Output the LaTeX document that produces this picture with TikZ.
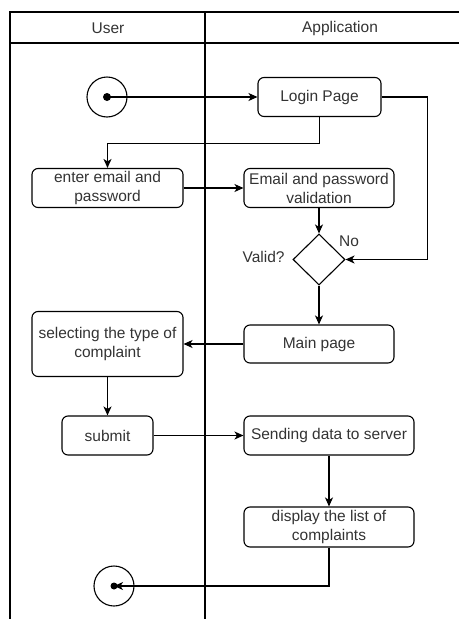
\documentclass[tikz,border=0pt]{standalone}
\usepackage{fontspec}
\setmainfont{Liberation Sans}
\usetikzlibrary{arrows.meta,shapes.geometric}
\tikzset{%
  >={Stealth[length=9pt,width=8pt,inset=2.5pt]},
  % Specifications for style of nodes:
            base/.style = {rectangle, rounded corners=6pt, draw=black,
                           inner sep=1pt, text centered, align=center},
        action/.style = {base, minimum height=39pt},
      decision/.style = {diamond, draw=black, minimum width=52pt,
                           minimum height=51pt, inner sep=0pt},
     startstop/.style = {circle, draw=black, minimum size=40pt, inner sep=0pt},
           dot/.style = {circle, fill=black, minimum size=8pt, inner sep=0pt},
}

\begin{document}
\begin{tikzpicture}[x=1pt, y=-1pt, line width=1.1pt,
    every node/.style={font=\fontsize{15.5pt}{19pt}\selectfont, text=black!80}]
  \useasboundingbox (0,0) rectangle (459,619);
  % Swimlanes
  \draw (459,12) -- (10,12) -- (10,619);
  \draw (10,43) -- (459,43);
  \draw (205,12) -- (205,619);
  \node (user) at (108,28) {User};
  \node (app)  at (340,28) {Application};
  % Specification of nodes (position, etc.)
  \node (start)   [startstop] at (107,97) {};
  \node (startdot) [dot] at (start.center) {};
  \node (login)   [action, minimum width=123pt] at (319.5,97) {Login Page};
  \node (enter)   [action, minimum width=151pt] at (107.5,188) {enter email and\\password};
  \node (valid)   [action, minimum width=150pt] at (319,188) {Email and password\\validation};
  \node (dia)     [decision] at (319,259.5) {};
  \node (valq)    [anchor=east] at ([xshift=-4pt,yshift=3pt]dia.west) {Valid?};
  \node (nolbl)   at (349,241) {No};
  \node (main)    [action, minimum width=150pt, minimum height=38pt] at (319,344) {Main page};
  \node (select)  [action, minimum width=151pt, minimum height=65pt] at (107.5,344) {selecting the type of\\complaint};
  \node (submit)  [action, minimum width=91pt] at (107.5,435.5) {submit};
  \node (send)    [action, minimum width=170pt] at (329,435.5) {Sending data to server};
  \node (show)    [action, minimum width=170pt, minimum height=40pt] at (329,527) {display the list of\\complaints};
  \node (stop)    [startstop] at (114,586) {};
  \node (stopdot) [dot, minimum size=7pt] at (stop.center) {};
  % Specification of lines between nodes specified above
  \draw[->] (startdot.center) -- (login.west);
  \draw[->] (login.south) -- ++(0,26) -| (enter.north);
  \draw[->] (login.east) -- ++(46,0) |- (dia.east);
  \draw[->] (enter) -- (valid);
  \draw[->] (valid) -- (dia);
  \draw[->] (dia) -- (main);
  \draw[->] (main) -- (select);
  \draw[->] (select) -- (submit);
  \draw[->] (submit) -- (send);
  \draw[->] (send) -- (show);
  \draw[->] (show.south) |- (stopdot.center);
\end{tikzpicture}
\end{document}
